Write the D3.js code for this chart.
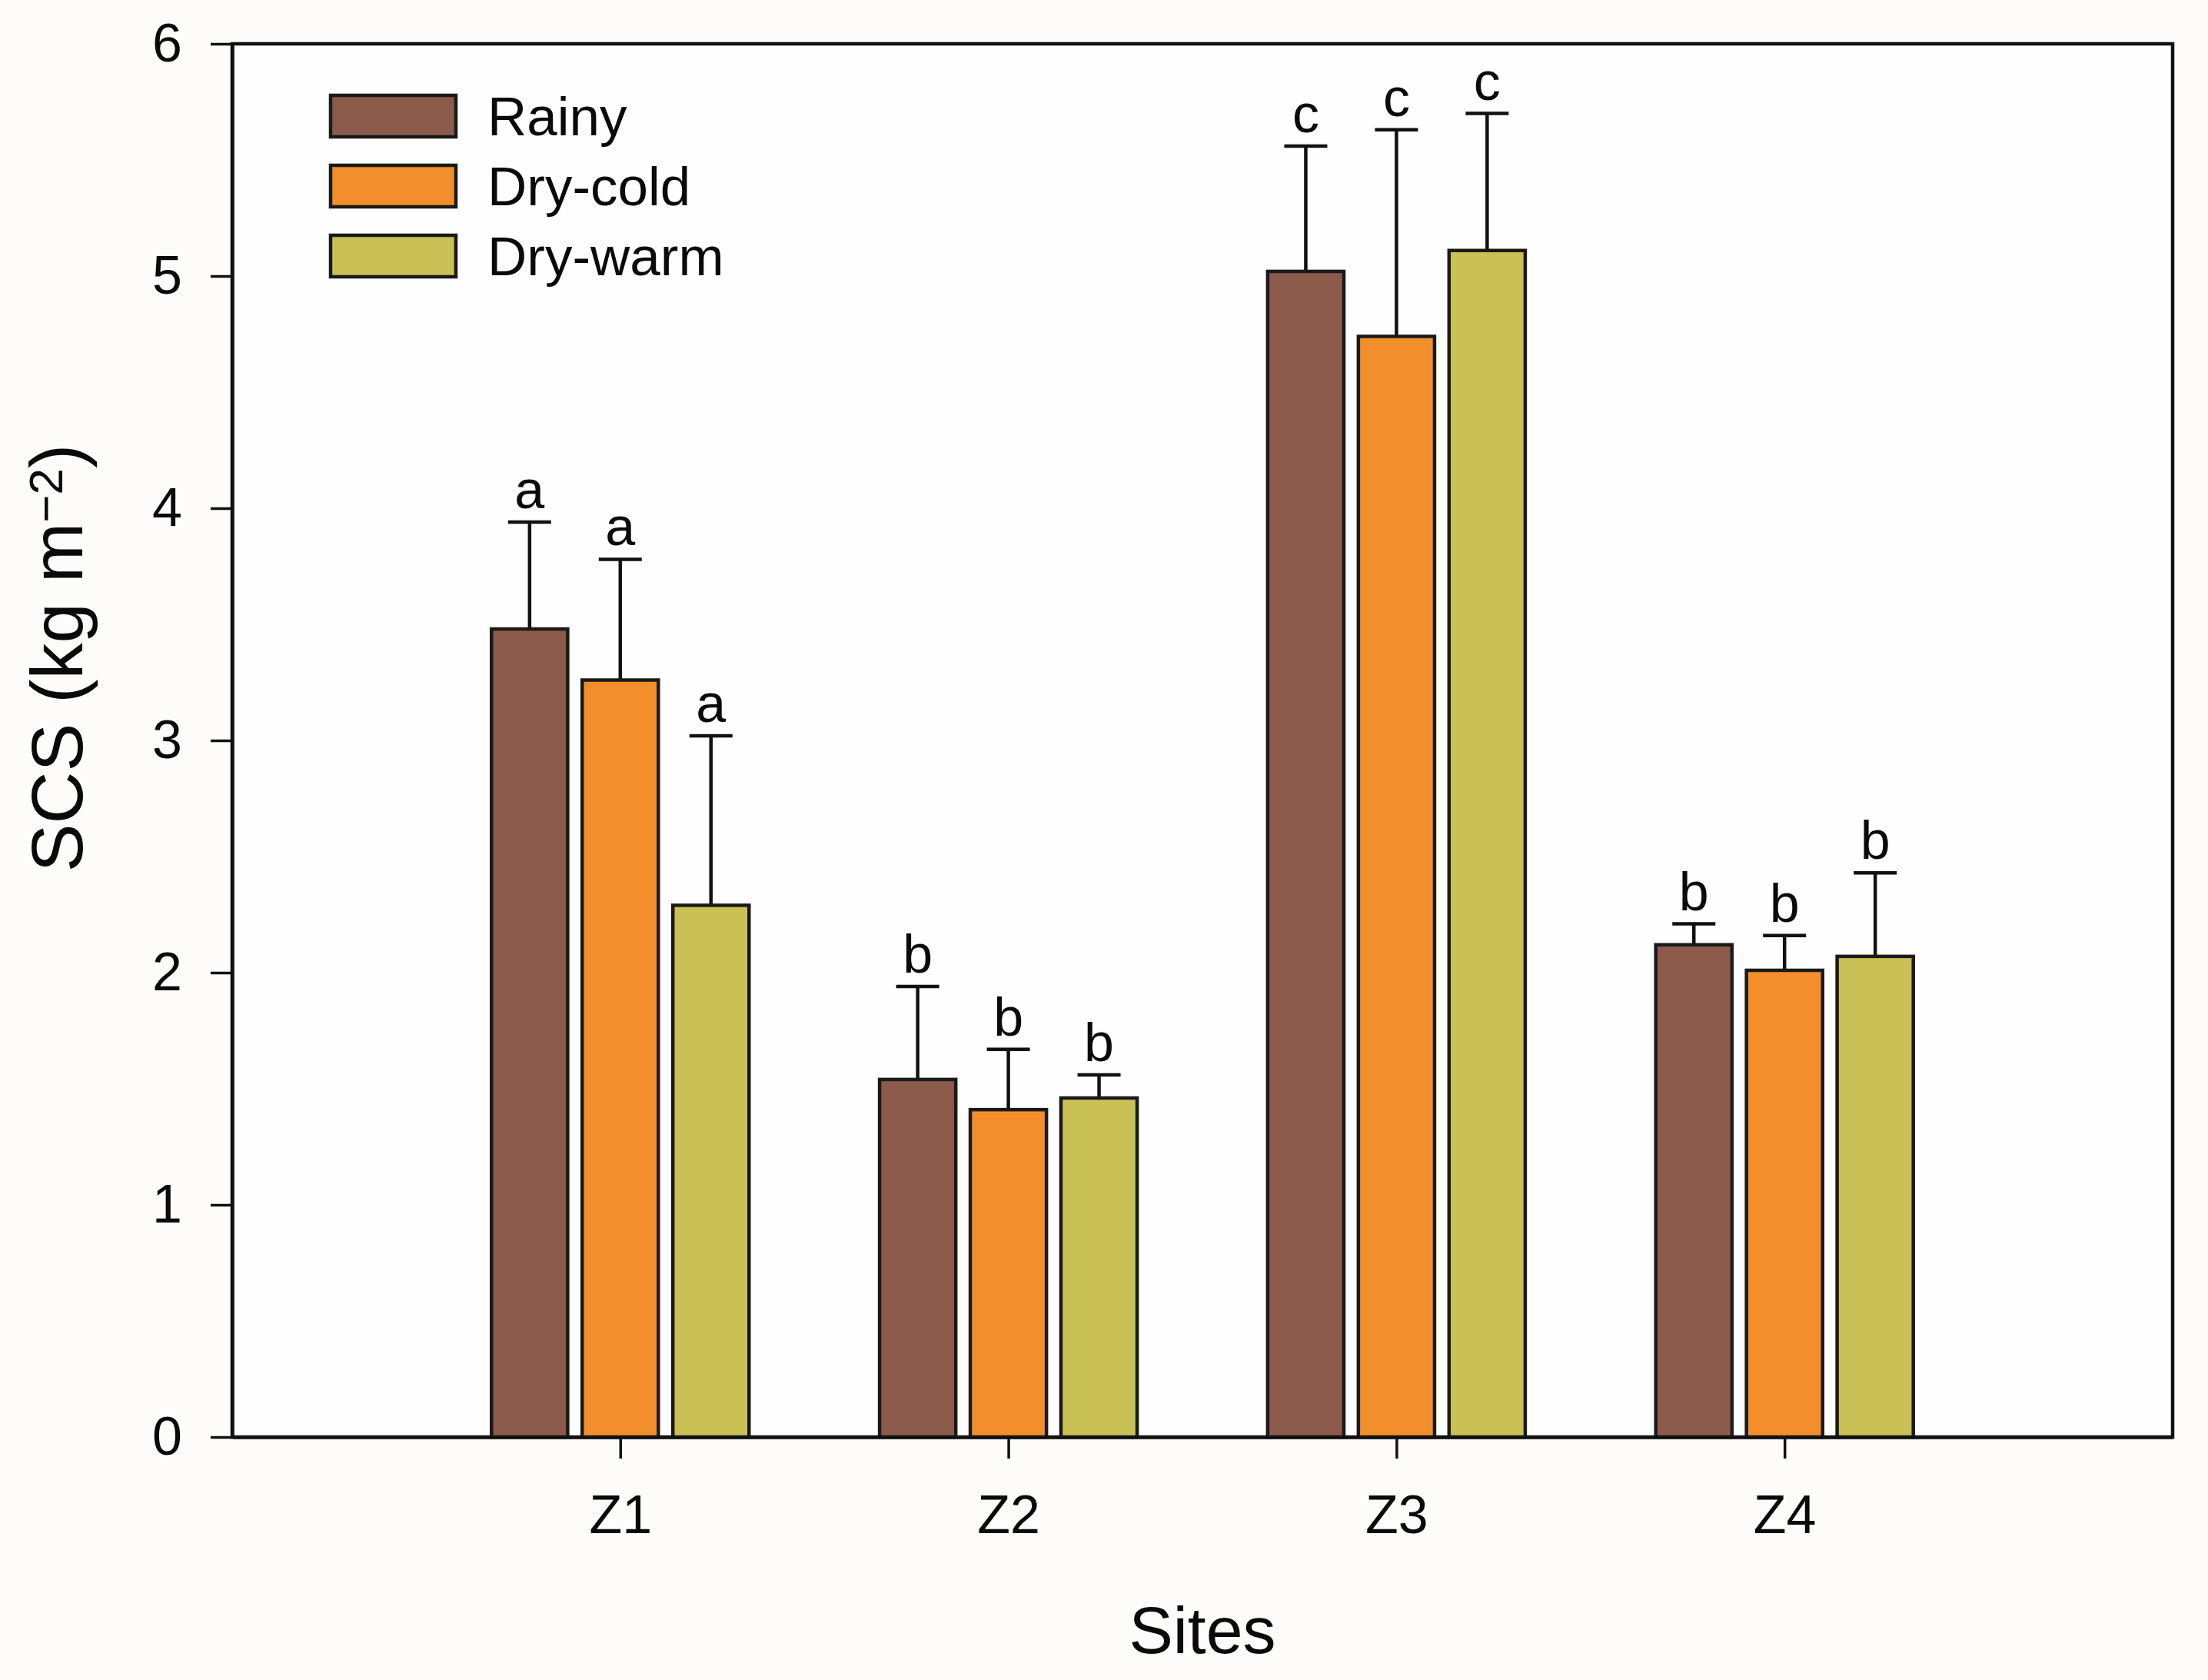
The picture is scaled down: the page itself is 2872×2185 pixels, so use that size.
<!DOCTYPE html>
<html>
<head>
<meta charset="utf-8">
<script src="https://cdn.jsdelivr.net/npm/d3@7"></script>
<style>
  html, body { margin: 0; padding: 0; background: #fdfcfa; }
  svg { display: block; }
  text { font-family: "Liberation Sans", Arial, sans-serif; fill: #0a0a0a; }
</style>
</head>
<body>
<div id="chart"></div>
<script>
"use strict";

// data
var sites = ["Z1", "Z2", "Z3", "Z4"];
var seasons = ["Rainy", "Dry-cold", "Dry-warm"];
var colors = ["#8c5a4a", "#f28e2b", "#c9c156"];

var rainy   = [3.48, 1.54, 5.02, 2.12];
var dryCold = [3.26, 1.41, 4.74, 2.01];
var dryWarm = [2.29, 1.46, 5.11, 2.07];

var rainyErr   = [0.46, 0.40, 0.54, 0.09];
var dryColdErr = [0.52, 0.26, 0.89, 0.15];
var dryWarmErr = [0.73, 0.10, 0.59, 0.36];

var letters = [
  ["a", "a", "a"],
  ["b", "b", "b"],
  ["c", "c", "c"],
  ["b", "b", "b"]
];

var yTicks = [0, 1, 2, 3, 4, 5, 6];

var width = 2872,
  height = 2185,
  plotLeft = 302, plotRight = 2826, plotTop = 57, plotBottom = 1869;

var values = [rainy, dryCold, dryWarm];
var errs = [rainyErr, dryColdErr, dryWarmErr];

var rows = [];
sites.forEach(function (s, i) {
  seasons.forEach(function (k, j) {
    rows.push({site: s, si: i, season: k, sj: j,
      value: values[j][i], err: errs[j][i], letter: letters[i][j]});
  });
});

var svg = d3.select("#chart")
  .append("svg")
    .attr("width", width)
    .attr("height", height);

svg.append("rect")
  .attr("width", width).attr("height", height)
  .attr("fill", "#fdfcfa");

var x = d3.scaleLinear().domain([0, 5]).range([plotLeft, plotRight]);
var y = d3.scaleLinear().domain([0, 6]).range([plotBottom, plotTop]);
var sub = d3.scaleBand().domain(seasons).range([-167.5, 167.5]).paddingInner(0.16);

// plot frame
svg.append("rect")
  .attr("x", plotLeft).attr("y", plotTop)
  .attr("width", plotRight - plotLeft).attr("height", plotBottom - plotTop)
  .attr("fill", "#fefefe")
  .attr("stroke", "#111")
  .attr("stroke-width", 4.5);

// error bars (upper only)
var eb = svg.append("g").attr("stroke", "#111").attr("stroke-width", 4.5);
rows.forEach(function (d) {
  var cx = x(d.si + 1) + sub(d.season) + sub.bandwidth() / 2;
  eb.append("line")
    .attr("x1", cx).attr("x2", cx)
    .attr("y1", y(d.value)).attr("y2", y(d.value + d.err));
  eb.append("line")
    .attr("x1", cx - 28).attr("x2", cx + 28)
    .attr("y1", y(d.value + d.err)).attr("y2", y(d.value + d.err));
});

// bars
svg.append("g")
  .selectAll("rect")
  .data(rows)
  .join("rect")
    .attr("x", function (d) { return x(d.si + 1) + sub(d.season); })
    .attr("y", function (d) { return y(d.value); })
    .attr("width", sub.bandwidth())
    .attr("height", function (d) { return y(0) - y(d.value); })
    .attr("fill", function (d) { return colors[d.sj]; })
    .attr("stroke", "#1a1a1a")
    .attr("stroke-width", 4.5);

// significance letters
svg.append("g")
  .selectAll("text")
  .data(rows)
  .join("text")
    .attr("x", function (d) { return x(d.si + 1) + sub(d.season) + sub.bandwidth() / 2; })
    .attr("y", function (d) { return y(d.value + d.err) - 18; })
    .attr("text-anchor", "middle")
    .style("font-size", "70px")
    .text(function (d) { return d.letter; });

// axes
var yAxis = svg.append("g")
  .attr("transform", "translate(" + plotLeft + ",0)")
  .call(d3.axisLeft(y).tickValues(yTicks).tickFormat(d3.format("d"))
    .tickSize(28).tickSizeOuter(0).tickPadding(37));

var xAxis = svg.append("g")
  .attr("transform", "translate(0," + plotBottom + ")")
  .call(d3.axisBottom(x).tickValues([1, 2, 3, 4])
    .tickFormat(function (d) { return sites[d - 1]; })
    .tickSize(28).tickSizeOuter(0).tickPadding(47));

[yAxis, xAxis].forEach(function (a) {
  a.select(".domain").attr("stroke", "#111").attr("stroke-width", 4.5);
  a.selectAll(".tick line").attr("stroke", "#111").attr("stroke-width", 3.5);
  a.selectAll(".tick text")
    .attr("fill", "#0a0a0a")
    .style("font-family", "'Liberation Sans', Arial, sans-serif")
    .style("font-size", "70px");
});

// axis titles
svg.append("text")
  .attr("x", (plotLeft + plotRight) / 2)
  .attr("y", 2150)
  .attr("text-anchor", "middle")
  .style("font-size", "86px")
  .text("Sites");

var yt = svg.append("text")
  .attr("transform", "translate(107,856) rotate(-90)")
  .attr("text-anchor", "middle")
  .style("font-size", "94px");
yt.append("tspan").text("SCS (kg m");
yt.append("tspan").attr("dy", "-0.42em").style("font-size", "62px").text("\u22122");
yt.append("tspan").attr("dy", "0.27em").text(")");

// legend
var legend = svg.append("g");
seasons.forEach(function (k, j) {
  var ly = 124 + j * 91;
  legend.append("rect")
    .attr("x", 430).attr("y", ly)
    .attr("width", 163).attr("height", 54)
    .attr("fill", colors[j])
    .attr("stroke", "#1a1a1a")
    .attr("stroke-width", 4.5);
  legend.append("text")
    .attr("x", 634).attr("y", ly + 52)
    .style("font-size", "71px")
    .text(k);
});
</script>
</body>
</html>
